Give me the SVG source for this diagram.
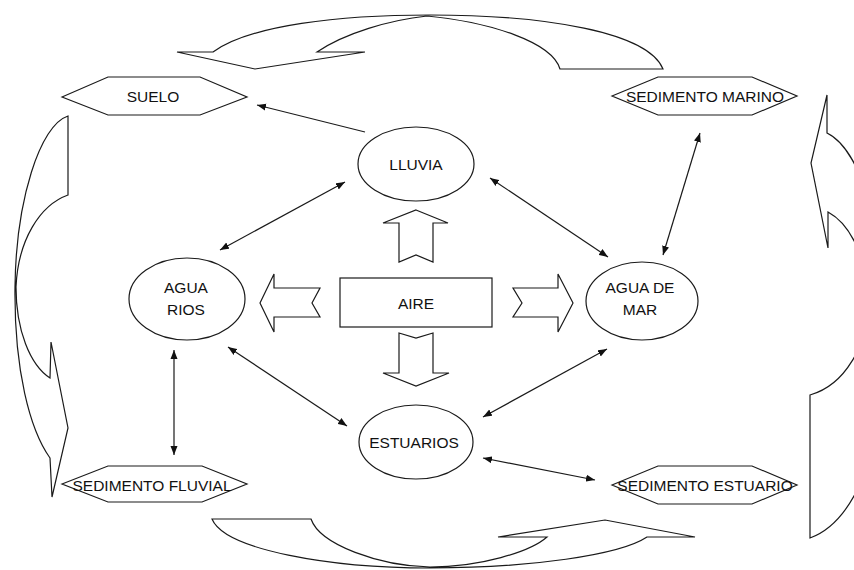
<svg xmlns="http://www.w3.org/2000/svg" width="854" height="570" viewBox="0 0 854 570">
  <style>
    .shape { fill: #ffffff; stroke: #1a1a1a; stroke-width: 1.2; stroke-linejoin: miter; }
    .label { font-family: "Liberation Sans", Arial, sans-serif; font-size: 15.5px; fill: #111111; text-anchor: middle; }
    .link { fill: none; stroke: #1a1a1a; stroke-width: 1.2; }
  </style>
  <defs>
    <marker id="tip" markerUnits="userSpaceOnUse" markerWidth="10" markerHeight="8" refX="9" refY="4" orient="auto-start-reverse">
      <path d="M0,0.5 L9,4 L0,7.5 Z" fill="#111111"/>
    </marker>
  </defs>
  <rect width="854" height="570" fill="#ffffff"/>

  <!-- cycle arrows around the border -->
  <g id="cycle-top">
    <path class="shape" d="M177,52 L255,69 L365,52 L317,52 C345,33 390,20 427,16 C490,22 552,42 560,69 L663,69 C648,32 545,15 430,15 C340,15 250,25 213,52 Z"/>
  </g>
  <g id="cycle-left">
    <path class="shape" d="M68,116 L68,195 C40,205 18,240 16,287 C16,330 30,365 50,378 L51,342 L68,428 L52,497 L50,458 C30,430 14,370 15,287 C16,200 40,125 68,116 Z"/>
  </g>
  <g id="cycle-right">
    <path class="shape" d="M827,95 L811,163 L828,248 L828,212 C852,225 868,262 868,302 C868,345 845,385 810,395 L810,538 C860,520 888,430 888,335 C888,240 862,150 827,133 Z"/>
  </g>
  <g id="cycle-bottom">
    <path class="shape" d="M212,519 L311,519 C320,545 380,566 430,567 C480,567 530,552 547,537 L498,537 L605,520 L695,537 L647,537 C620,555 530,568 430,568 C330,568 225,550 212,519 Z"/>
  </g>

  <!-- AIRE and its block arrows -->
  <g id="aire">
    <rect class="shape" x="340" y="278" width="152" height="49"/>
    <text class="label" x="416" y="309">AIRE</text>
  </g>
  <g id="aire-up">
    <path class="shape" d="M416,210 L448,223 L433,223 L433,262 L416,255 L399,262 L399,223 L383,223 Z"/>
  </g>
  <g id="aire-left">
    <path class="shape" d="M260,303 L274,274 L274,288 L320,288 L312,303 L320,317 L274,317 L274,332 Z"/>
  </g>
  <g id="aire-right">
    <path class="shape" d="M513,288 L558,288 L558,274 L573,303 L558,332 L558,317 L513,317 L522,303 Z"/>
  </g>
  <g id="aire-down">
    <path class="shape" d="M399,333 L416,338 L433,333 L433,373 L449,373 L416,386 L383,373 L399,373 Z"/>
  </g>

  <!-- ellipse nodes -->
  <g id="lluvia">
    <ellipse class="shape" cx="416" cy="164" rx="58" ry="37"/>
    <text class="label" x="416" y="170">LLUVIA</text>
  </g>
  <g id="agua-rios">
    <ellipse class="shape" cx="187" cy="299" rx="58" ry="41"/>
    <text class="label" x="186" y="293">AGUA</text>
    <text class="label" x="186" y="315">RIOS</text>
  </g>
  <g id="agua-de-mar">
    <ellipse class="shape" cx="642" cy="301" rx="56" ry="39"/>
    <text class="label" x="640" y="293">AGUA DE</text>
    <text class="label" x="640" y="315">MAR</text>
  </g>
  <g id="estuarios">
    <ellipse class="shape" cx="416" cy="442" rx="57" ry="37"/>
    <text class="label" x="414" y="448">ESTUARIOS</text>
  </g>

  <!-- hexagon nodes -->
  <g id="suelo">
    <polygon class="shape" points="62,97 108,77 200,77 247,97 200,115 108,115"/>
    <text class="label" x="153" y="102">SUELO</text>
  </g>
  <g id="sedimento-marino">
    <polygon class="shape" points="612,96 658,77 752,77 797,96 752,115 658,115"/>
    <text class="label" x="705" y="102">SEDIMENTO MARINO</text>
  </g>
  <g id="sedimento-fluvial">
    <polygon class="shape" points="62,484 108,466 202,466 247,484 202,502 108,502"/>
    <text class="label" x="152" y="491">SEDIMENTO FLUVIAL</text>
  </g>
  <g id="sedimento-estuario">
    <polygon class="shape" points="612,485 658,466 752,466 797,485 752,504 658,504"/>
    <text class="label" x="705" y="491">SEDIMENTO ESTUARIO</text>
  </g>

  <!-- connectors -->
  <g id="connectors">
    <line class="link" x1="365" y1="132" x2="257" y2="105" marker-end="url(#tip)"/>
    <line class="link" x1="345" y1="182" x2="220" y2="250" marker-start="url(#tip)" marker-end="url(#tip)"/>
    <line class="link" x1="490" y1="178" x2="608" y2="257" marker-start="url(#tip)" marker-end="url(#tip)"/>
    <line class="link" x1="700" y1="133" x2="663" y2="255" marker-start="url(#tip)" marker-end="url(#tip)"/>
    <line class="link" x1="228" y1="347" x2="347" y2="426" marker-start="url(#tip)" marker-end="url(#tip)"/>
    <line class="link" x1="607" y1="349" x2="483" y2="417" marker-start="url(#tip)" marker-end="url(#tip)"/>
    <line class="link" x1="174" y1="350" x2="174" y2="455" marker-start="url(#tip)" marker-end="url(#tip)"/>
    <line class="link" x1="483" y1="458" x2="595" y2="480" marker-start="url(#tip)" marker-end="url(#tip)"/>
  </g>
</svg>
